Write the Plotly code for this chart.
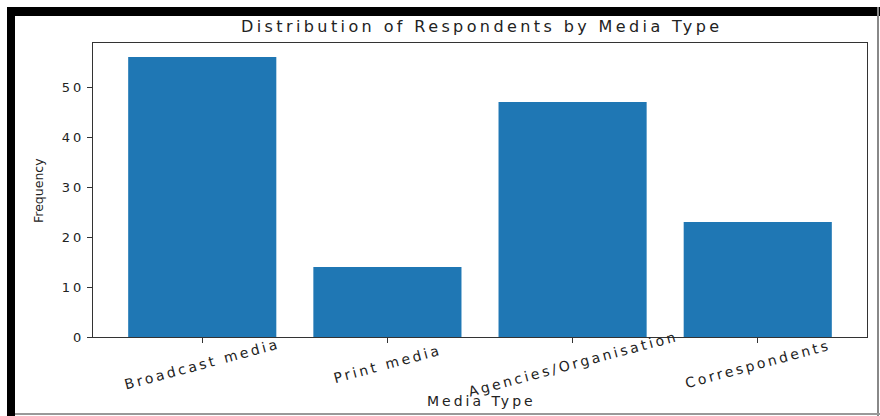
import plotly.graph_objects as go

categories = ["Broadcast media", "Print media", "Agencies/Organisation", "Correspondents"]
frequency = [56, 14, 47, 23]
y_ticks = [0, 10, 20, 30, 40, 50]

W, H = 880, 416
L, R, T, B = 93, 867, 43, 337  # plot area in pixels

def px(x):
    return (x - L) / (R - L)

def py(y):
    return (B - y) / (B - T)

def spaced(s, sp):
    return f'<span style="letter-spacing:{sp}px">{s}</span>'

FONT = "DejaVu Sans"
TXT = "#222222"

fig = go.Figure(go.Bar(x=categories, y=frequency, marker=dict(color="#1f77b4", line=dict(width=0)), width=0.8))

annotations = []
for c in categories:
    annotations.append(dict(x=c, xref="x", y=py(364), yref="paper", text=spaced(c, 2.8), showarrow=False,
                            textangle=-15, xanchor="center", yanchor="middle",
                            font=dict(family=FONT, size=14, color=TXT)))
annotations.append(dict(x=px(481), y=py(27), xref="paper", yref="paper",
                        text=spaced("Distribution of Respondents by Media Type", 3.4),
                        showarrow=False, xanchor="center", yanchor="middle", font=dict(family=FONT, size=16, color=TXT)))
annotations.append(dict(x=px(481), y=py(401), xref="paper", yref="paper", text=spaced("Media Type", 3),
                        showarrow=False, xanchor="center", yanchor="middle", font=dict(family=FONT, size=14, color=TXT)))
annotations.append(dict(x=px(38), y=py(191), xref="paper", yref="paper", text="Frequency", textangle=-90,
                        showarrow=False, xanchor="center", yanchor="middle", font=dict(family=FONT, size=12.5, color=TXT)))

shapes = [
    dict(type="rect", xref="paper", yref="paper", x0=px(7), x1=px(880), y0=py(7), y1=py(16), fillcolor="black", line=dict(width=0), layer="above"),
    dict(type="rect", xref="paper", yref="paper", x0=px(7), x1=px(15), y0=py(7), y1=py(416), fillcolor="black", line=dict(width=0), layer="above"),
    dict(type="rect", xref="paper", yref="paper", x0=px(877), x1=px(879), y0=py(7), y1=py(416), fillcolor="#888888", line=dict(width=0), layer="above"),
    dict(type="rect", xref="paper", yref="paper", x0=px(15), x1=px(880), y0=py(413), y1=py(415), fillcolor="#999999", line=dict(width=0), layer="above"),
]

fig.update_layout(
    width=W, height=H,
    margin=dict(l=L, r=W - R, t=T, b=H - B),
    paper_bgcolor="white", plot_bgcolor="white",
    showlegend=False,
    annotations=annotations,
    shapes=shapes,
    xaxis=dict(range=[-0.59, 3.59], showticklabels=False, ticks="outside", ticklen=5, tickcolor="#333",
               showline=True, linecolor="#333", linewidth=1, mirror=True, showgrid=False, zeroline=False),
    yaxis=dict(range=[0, 58.8], tickvals=y_ticks, ticktext=[spaced(str(v), 3) for v in y_ticks],
               ticks="outside", ticklen=5, tickcolor="#333",
               showline=True, linecolor="#333", linewidth=1, mirror=True, showgrid=False, zeroline=False,
               tickfont=dict(family=FONT, size=13, color=TXT)),
)

fig.write_html("out.html")
